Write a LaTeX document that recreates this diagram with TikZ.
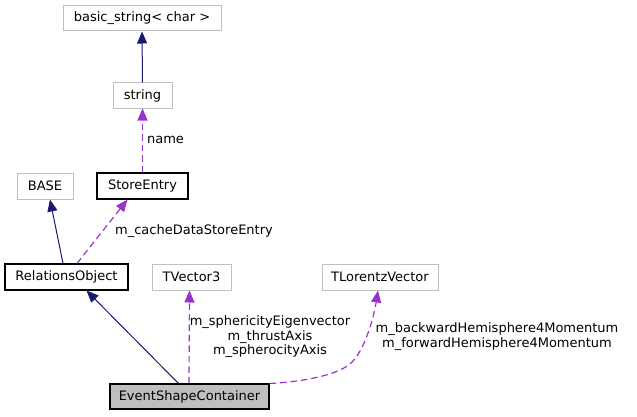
\documentclass[tikz,border=0pt]{standalone}
\usepackage{fontspec}
\setmainfont{DejaVu Sans}
\usetikzlibrary{arrows.meta}
\definecolor{edgegray}{HTML}{BFBFBF}
\definecolor{navyline}{HTML}{191970}
\definecolor{purp}{HTML}{9A32CD}
\newcommand{\dxfont}{\fontsize{13}{14.5}\selectfont}
\tikzset{
  cls/.style={draw=edgegray, line width=1pt, fill=white, inner sep=0pt, font=\dxfont},
  doc/.style={draw=black, line width=1.1pt, fill=white, inner sep=0pt, font=\dxfont},
  inh/.style={navyline, line width=1pt, -{Triangle[length=12pt,width=10pt]}},
  use/.style={purp, line width=1.2pt, dash pattern=on 6.5pt off 4pt, -{Triangle[length=12pt,width=10pt]}},
  lbl/.style={font=\dxfont, text=black, inner sep=0pt, align=center},
}
\begin{document}
\begin{tikzpicture}[x=1pt,y=1pt]
\useasboundingbox (0,0) rectangle (637,416);
\node[cls, minimum width=158pt, minimum height=25pt] (bs) at (142,397.5) {basic\_string< char >};
\node[cls, minimum width=59pt, minimum height=25pt] (str) at (142.5,320.5) {string};
\node[cls, minimum width=56pt, minimum height=26pt] (base) at (45,230) {BASE};
\node[doc, minimum width=91pt, minimum height=26pt] (se) at (142.5,230) {StoreEntry};
\node[doc, minimum width=123pt, minimum height=26pt] (ro) at (66.5,139) {RelationsObject};
\node[cls, minimum width=79pt, minimum height=26pt] (tv) at (191.5,139) {TVector3};
\node[cls, minimum width=116pt, minimum height=26pt] (tlv) at (380,139) {TLorentzVector};
\node[doc, fill=edgegray, minimum width=159pt, minimum height=25pt] (esc) at (189.5,19.5) {EventShapeContainer};

\draw[inh] (str.north) -- (bs.south);
\draw[use] (se.north) -- (str.south) node[lbl, pos=0.5, anchor=west, xshift=4pt, yshift=1pt] {name};
\draw[inh] ([xshift=-3.5pt]ro.north) -- ([xshift=5pt]base.south);
\draw[use] ([xshift=10.5pt]ro.north) -- ([xshift=-15pt]se.south);
\node[lbl] (lcache) at (194,185) {m\_cacheDataStoreEntry};
\draw[inh] ([xshift=-11pt]esc.north) -- ([xshift=20pt]ro.south);
\draw[use] ([xshift=-0.5pt]esc.north) -- ([xshift=-2pt]tv.south);
\node[lbl] (ltv) at (270,79) {m\_sphericityEigenvector\\m\_thrustAxis\\m\_spherocityAxis};
\draw[use] (esc.north east) .. controls (300,34) and (335,40) .. (350,52)
  .. controls (365,65) and (374,100) .. ([xshift=-2pt]tlv.south);
\node[lbl] (ltlv) at (497,79.5) {m\_backwardHemisphere4Momentum\\m\_forwardHemisphere4Momentum};
\end{tikzpicture}
\end{document}
